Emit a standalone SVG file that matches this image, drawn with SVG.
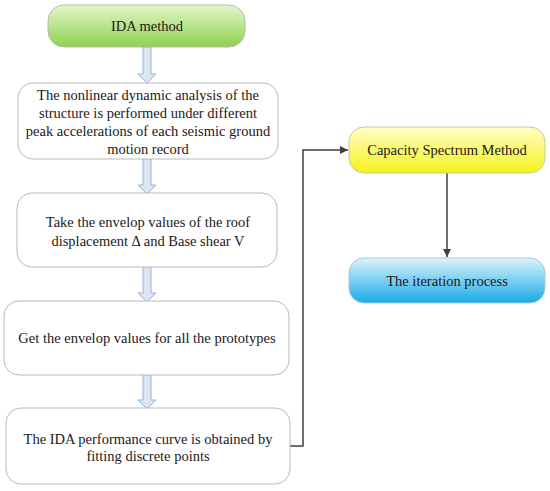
<svg xmlns="http://www.w3.org/2000/svg" width="550" height="491" viewBox="0 0 550 491">
<defs>
<linearGradient id="gGreen" x1="0" y1="0" x2="0" y2="1">
<stop offset="0" stop-color="#e2f7c8"/><stop offset="1" stop-color="#8fd14f"/>
</linearGradient>
<linearGradient id="gYellow" x1="0" y1="0" x2="0" y2="1">
<stop offset="0" stop-color="#ffffc8"/><stop offset="1" stop-color="#f5f21a"/>
</linearGradient>
<linearGradient id="gBlue" x1="0" y1="0" x2="0" y2="1">
<stop offset="0" stop-color="#dcf3fd"/><stop offset="1" stop-color="#19aae6"/>
</linearGradient>
<marker id="ah" viewBox="0 0 10 10" refX="10" refY="5" markerWidth="8" markerHeight="8" orient="auto" markerUnits="userSpaceOnUse">
<path d="M0,0 L10,5 L0,10 z" fill="#404040"/>
</marker>
<path id="blk" d="M-4,0 H4 V27 H9 L0,36 L-9,27 H-4 Z"/>
</defs>
<style>
.box{fill:#fff;stroke:#b8b8b8;stroke-width:1}
text{font-family:'Liberation Serif','Times New Roman',serif;font-size:14.5px;fill:#1a1a1a;text-anchor:middle}
.blk{fill:#dce6f2;stroke:#95b3d7;stroke-width:1}
.ln{fill:none;stroke:#404040;stroke-width:1.5}
</style>
<rect width="550" height="491" fill="#fff"/>
<g id="connectors">
<use href="#blk" class="blk" transform="translate(147,47)"/>
<use href="#blk" class="blk" transform="translate(147,158)"/>
<use href="#blk" class="blk" transform="translate(147,266)"/>
<use href="#blk" class="blk" transform="translate(147,373)"/>
<path class="ln" d="M290,446 H303 V150 H348" marker-end="url(#ah)"/>
<path class="ln" d="M447,173 V257" marker-end="url(#ah)"/>
</g>
<g id="n1">
<rect x="48" y="5" width="197" height="42" rx="16" fill="url(#gGreen)" stroke="#b8b8b8"/>
<text x="147" y="31">IDA method</text>
</g>
<g id="n2">
<rect class="box" x="18" y="83" width="260" height="76" rx="15"/>
<text x="148" y="100">The nonlinear dynamic analysis of the</text>
<text x="148" y="118">structure is performed under different</text>
<text x="148" y="136">peak accelerations of each seismic ground</text>
<text x="148" y="154">motion record</text>
</g>
<g id="n3">
<rect class="box" x="17" y="193" width="260" height="74" rx="15"/>
<text x="148" y="227">Take the envelop values of the roof</text>
<text x="148" y="246">displacement Δ  and Base shear V</text>
</g>
<g id="n4">
<rect class="box" x="4" y="301" width="285" height="74" rx="15"/>
<text x="147" y="343">Get the envelop values for all the prototypes</text>
</g>
<g id="n5">
<rect class="box" x="6" y="408" width="284" height="76" rx="15"/>
<text x="148" y="444">The IDA performance curve is obtained by</text>
<text x="148" y="461">fitting discrete points</text>
</g>
<g id="n6">
<rect x="349" y="127" width="196" height="46" rx="15" fill="url(#gYellow)" stroke="#c8c8a0"/>
<text x="447" y="155">Capacity Spectrum Method</text>
</g>
<g id="n7">
<rect x="349" y="258" width="196" height="45" rx="15" fill="url(#gBlue)" stroke="#a8c8d8"/>
<text x="447" y="286">The iteration process</text>
</g>
</svg>
